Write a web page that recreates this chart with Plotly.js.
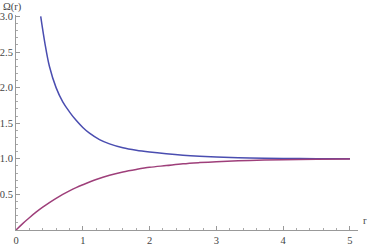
<!DOCTYPE html>
<html>
<head>
<meta charset="utf-8">
<script src="https://cdn.plot.ly/plotly-3.0.1.min.js"></script>
<style>html,body{margin:0;padding:0;background:#fff;}#plot{width:370px;height:246px;}</style>
</head>
<body>
<div id="plot"></div>
<script>
// Values
const rUpper = [0.37,0.43,0.5,0.6,0.7,0.8,0.9,1.0,1.1,1.25,1.4,1.6,1.8,2.0,2.25,2.5,2.75,3.0,3.5,4.0,4.5,5.0];
const omegaUpper = [3.0,2.64,2.30,2.0,1.80,1.66,1.54,1.44,1.36,1.27,1.21,1.155,1.12,1.095,1.07,1.05,1.036,1.026,1.012,1.005,1.002,1.001];
const rLower = [0,0.1,0.2,0.3,0.4,0.5,0.6,0.7,0.8,0.9,1.0,1.2,1.4,1.6,1.8,2.0,2.25,2.5,2.75,3.0,3.5,4.0,4.5,5.0];
const omegaLower = [0,0.09,0.172,0.25,0.32,0.385,0.445,0.50,0.55,0.595,0.635,0.71,0.77,0.815,0.85,0.88,0.905,0.93,0.947,0.96,0.977,0.988,0.995,0.998];
const xTicks = [0,1,2,3,4,5];
const yTicks = [0.5,1.0,1.5,2.0,2.5,3.0];
const yTickText = ['0.5','1.0','1.5','2.0','2.5','3.0'];

const fontSerif = {family:'Liberation Serif', size:10.5, color:'#444'};

const traces = [
  {x:rUpper, y:omegaUpper, mode:'lines', line:{color:'#4a4db0', width:1.5, shape:'spline', smoothing:1}, hoverinfo:'skip'},
  {x:rLower, y:omegaLower, mode:'lines', line:{color:'#9e3f7a', width:1.5, shape:'spline', smoothing:1}, hoverinfo:'skip'}
];

const layout = {
  width:370, height:246,
  margin:{l:16, r:12, t:15, b:16, pad:0},
  paper_bgcolor:'#fff', plot_bgcolor:'#fff',
  showlegend:false,
  font:fontSerif,
  xaxis:{range:[0,5.12], showgrid:false, zeroline:false, showline:true, linecolor:'#999', linewidth:1,
    ticks:'inside', ticklen:4, tickcolor:'#999', tickvals:xTicks, ticktext:xTicks.map(String), tickfont:fontSerif,
    minor:{dtick:0.2, ticks:'inside', ticklen:2, tickcolor:'#aaa', showgrid:false}},
  yaxis:{range:[0,3.02], showgrid:false, zeroline:false, showline:true, linecolor:'#999', linewidth:1,
    ticks:'inside', ticklen:4, tickcolor:'#999', tickvals:yTicks, ticktext:yTickText, tickfont:fontSerif,
    minor:{dtick:0.1, ticks:'inside', ticklen:2, tickcolor:'#aaa', showgrid:false}},
  annotations:[
    {text:'Ω(r)', xref:'paper', yref:'paper', x:-0.01, y:1.0, yshift:8, showarrow:false, font:fontSerif, xanchor:'center', yanchor:'middle'},
    {text:'r', xref:'paper', yref:'paper', x:1.0, y:0, xshift:7, yshift:2, showarrow:false, font:fontSerif, xanchor:'center', yanchor:'bottom'}
  ]
};

Plotly.newPlot('plot', traces, layout, {staticPlot:true, displayModeBar:false});
</script>
</body>
</html>
